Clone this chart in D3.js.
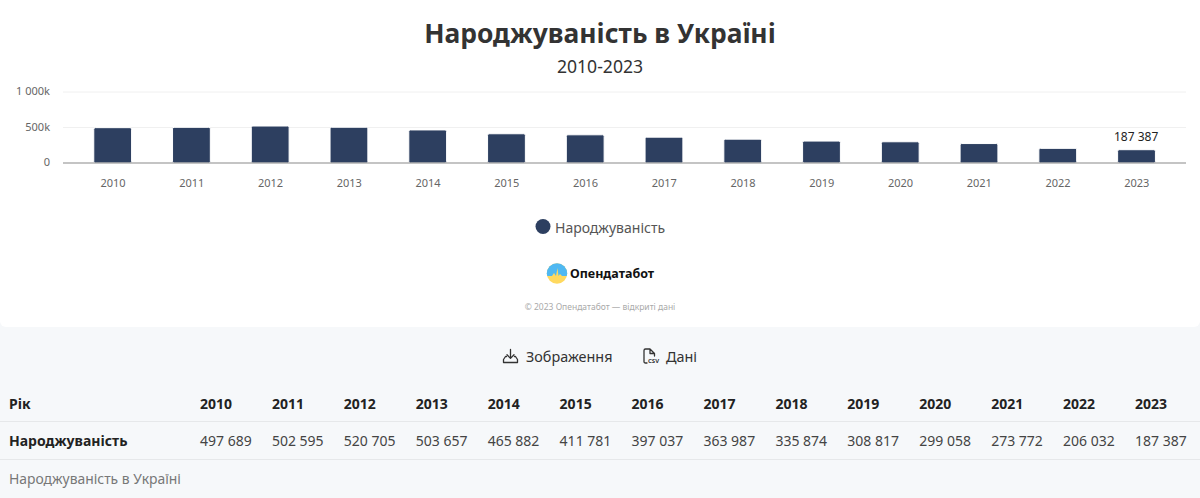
<!DOCTYPE html>
<html lang="uk"><head><meta charset="utf-8">
<script src="https://cdn.jsdelivr.net/npm/d3@7/dist/d3.min.js"></script>
<style>html,body{margin:0;padding:0;background:#f6f8fa;overflow:hidden}svg{display:block;font-family:"Noto Sans","Open Sans",sans-serif}</style>
</head><body><div id="c"></div>
<script>
const years = [2010,2011,2012,2013,2014,2015,2016,2017,2018,2019,2020,2021,2022,2023];
const births = [497689,502595,520705,503657,465882,411781,397037,363987,335874,308817,299058,273772,206032,187387];
const yTicks = [0,500000,1000000];
const title = "Народжуваність в Україні";
const subtitle = "2010-2023";
const seriesName = "Народжуваність";
const brand = "Опендатабот";
const copyright = "© 2023 Опендатабот — відкриті дані";
const rowHeader = "Рік";
const btnImage = "Зображення";
const btnData = "Дані";

const W=1200,H=498;
const FF='"Noto Sans","Open Sans",sans-serif';
const fmt = v => d3.format(",")(v).replace(/,/g," ");
const svg = d3.select("#c").append("svg").attr("width",W).attr("height",H);
svg.append("rect").attr("width",W).attr("height",H).attr("fill","#f6f8fa");
svg.append("path").attr("fill","#fff").attr("d","M0 0H1200V321a6 6 0 0 1-6 6H6a6 6 0 0 1-6-6Z");

const t=(x,y,s,size,fill,anchor,weight)=>svg.append("text").attr("x",x).attr("y",y).attr("font-size",size).attr("fill",fill).attr("text-anchor",anchor||"start").attr("font-weight",weight||400).text(s);
t(600,43,title,26.4,"#333","middle",700);
t(600,73,subtitle,17.6,"#333","middle");

const x=d3.scaleBand().domain(years).range([73.3,1175.9]).paddingInner(0.52).paddingOuter(0.26);
const y=d3.scaleLinear().domain([0,1000000]).range([163,92]);
const g=svg.append("g");
const gy=g.append("g").attr("transform","translate(63,-1)").call(d3.axisLeft(y).tickValues(yTicks).tickSize(0).tickPadding(13).tickFormat(v=>v===0?"0":fmt(v/1000)+"k"));
gy.select(".domain").remove();
gy.attr("font-family",FF);
gy.selectAll("text").attr("font-size",11).attr("fill","#666");
g.selectAll("line.grid").data(yTicks.slice(1)).join("line").attr("class","grid").attr("x1",63).attr("x2",1186).attr("y1",d=>y(d)).attr("y2",d=>y(d)).attr("stroke","#f0f0f0");
g.selectAll("rect.bar").data(years).join("rect").attr("class","bar")
 .attr("x",d=>x(d)).attr("width",x.bandwidth()).attr("y",(d,i)=>y(births[i])).attr("height",(d,i)=>y(0)-y(births[i]))
 .attr("fill","#2d3f60").attr("stroke","#fff").attr("stroke-width",1).attr("rx",1.5);
const gx=g.append("g").attr("transform","translate(0.3,163)").call(d3.axisBottom(x).tickSize(0).tickPadding(16.5));
gx.select(".domain").remove();
gx.attr("font-family",FF);
gx.selectAll("text").attr("font-size",11).attr("fill","#666");
g.append("line").attr("x1",63).attr("x2",1186).attr("y1",163).attr("y2",163).attr("stroke","#8a8a8a").attr("stroke-width",1.2);
const last=years.length-1;
t(x(years[last])+x.bandwidth()/2-0.4,141,fmt(births[last]),12,"#222","middle",400);

// legend
svg.append("circle").attr("cx",543).attr("cy",226.5).attr("r",7.5).attr("fill","#2d3f60");
t(555,232.5,seriesName,14,"#555");

// logo
const defs=svg.append("defs");
defs.append("clipPath").attr("id","lg").append("circle").attr("cx",557).attr("cy",273.5).attr("r",10.2);
const lg=svg.append("g").attr("clip-path","url(#lg)");
lg.append("rect").attr("x",546).attr("y",263).attr("width",22).attr("height",22).attr("fill","#ffd95f");
lg.append("path").attr("fill","#4fb8f2").attr("d","M546 263H568V276H562L560 274L558.5 276L557.5 268L556 276L554 273L552 276H546Z");
t(570,278,brand,12.5,"#111","start",700);
t(600,310,copyright,8.5,"#aaa","middle");

// buttons
const ic=svg.append("g").attr("fill","none").attr("stroke","#333").attr("stroke-width",1.3).attr("stroke-linecap","round").attr("stroke-linejoin","round");
ic.append("path").attr("d","M510.5 349.5V358M507 354.8L510.5 358.4L514 354.8M506.5 356.5H505.5L503.5 359.5V362.5H517.5V359.5L515.5 356.5H514.5");
ic.append("path").attr("d","M650 349H645.5A1.5 1.5 0 0 0 644 350.5V362A1.5 1.5 0 0 0 645.5 363H647M650 349L654.5 353.5H650V349M654.5 353.5V356");
svg.append("text").attr("x",648).attr("y",363).attr("font-size",6).attr("font-weight",700).attr("fill","#333").text("CSV");
t(526,362,btnImage,14.4,"#333");
t(666,362,btnData,14.4,"#333");

// table
svg.append("g").selectAll("line").data([421.5,459.5]).join("line").attr("x1",0).attr("x2",W).attr("y1",d=>d).attr("y2",d=>d).attr("stroke","#e6e8ea");
t(9,408.5,rowHeader,14,"#222","start",700);
t(9,446,seriesName,14,"#222","start",700);
const cx=d3.scalePoint().domain(years).range([200,1135]);
svg.append("g").selectAll("text").data(years).join("text").attr("x",d=>cx(d)).attr("y",408.5).attr("font-size",14).attr("font-weight",700).attr("fill","#222").text(d=>d);
svg.append("g").selectAll("text").data(years).join("text").attr("x",d=>cx(d)).attr("y",446).attr("font-size",14).attr("fill","#444").text((d,i)=>fmt(births[i]));
t(9,484,title,13.9,"#777");
</script></body></html>
